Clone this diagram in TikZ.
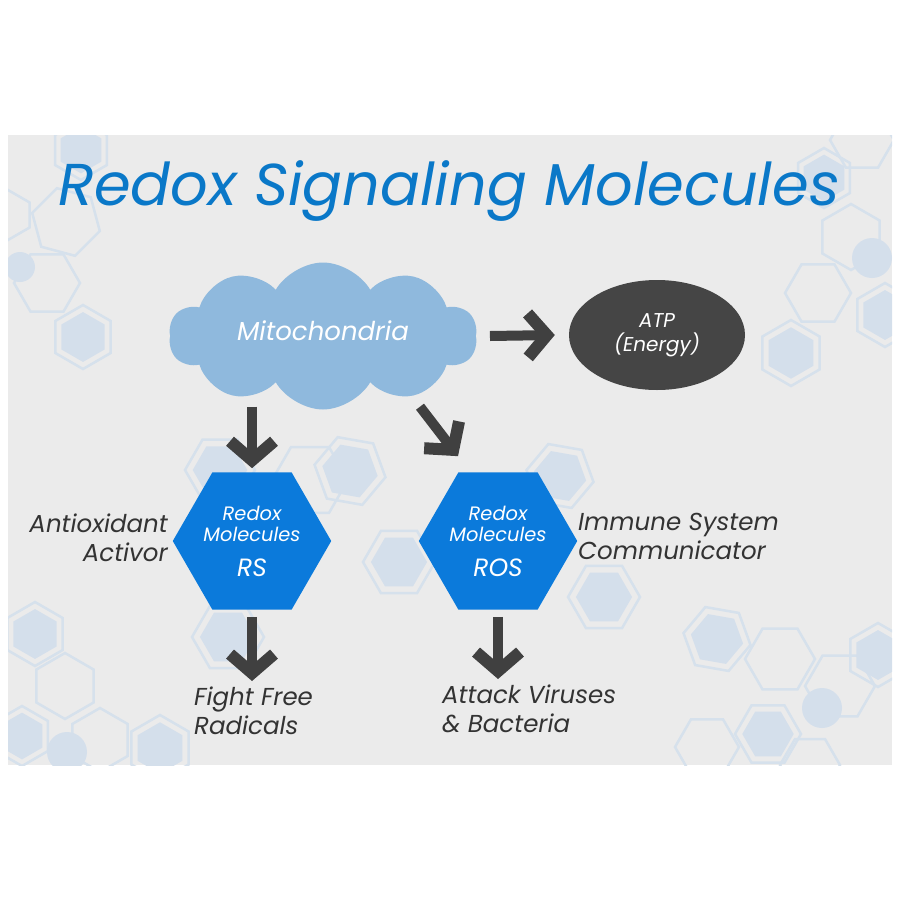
\documentclass[tikz,border=0pt]{standalone}
\usepackage{fontspec}
\setmainfont{Poppins}
\usetikzlibrary{shapes.geometric,shapes.symbols,arrows.meta}

\definecolor{panelgray}{HTML}{EBEBEB}
\definecolor{titleblue}{HTML}{0A78C8}
\definecolor{cloudblue}{HTML}{8FB9DD}
\definecolor{hexblue}{HTML}{0B7ADB}
\definecolor{arrowgray}{HTML}{404040}
\definecolor{atpgray}{HTML}{454545}
\definecolor{textgray}{HTML}{333333}
\definecolor{bgline}{HTML}{D6E1EC}
\definecolor{bgfill}{HTML}{D4DFEB}

% hexagon path: centre x, centre y, radius, rotation
\newcommand{\hexpath}[4]{(#1,#2) +(#4:#3) -- +(#4+60:#3) -- +(#4+120:#3) -- +(#4+180:#3) -- +(#4+240:#3) -- +(#4+300:#3) -- cycle}

\tikzset{
  molhex/.style={regular polygon, regular polygon sides=6, fill=hexblue, minimum size=156pt,
    inner sep=0pt, text=white, align=center, font=\fontsize{19.4}{21}\selectfont\itshape},
  darr/.style={draw=arrowgray, line width=10pt,
    -{Straight Barb[length=19pt, width=44pt, line width=12pt]}},
  sidetext/.style={inner sep=0pt, text=textgray, font=\fontsize{24.5}{29}\selectfont\itshape},
  bgedge/.style={draw=bgline, line width=2.5pt},
  bginner/.style={fill=bgfill}
}

\begin{document}
\begin{tikzpicture}[x=1pt, y=-1pt]
    \useasboundingbox (0,0) rectangle (900,900);
    \fill[panelgray] (8,135) rectangle (892,765);

    % background molecule pattern
    \begin{scope}
        \clip (8,135) rectangle (892,765);
        \foreach \x/\y/\r/\a in {66/222/35/15, 47/283/33/0, 851/237/33/30, 818/293/33/0,
            862/140/32/0, 65/686/33/30, 100/740/32/30, 780/659/35/0, 840/686/35/0,
            707/747/32/0, 810/765/30/0, 310/480/38/0, 8/215/25/30} {
            \draw[bgedge] \hexpath{\x}{\y}{\r}{\a};
        }
        \foreach \x/\y/\r/\a in {81/150/30/30, 83/337/32/30, 824/178/30/30, 791/353/33/30,
            885/315/32/30, 35/634/32/30, 22/736/30/30, 160/748/33/30, 220/470/35/0,
            350/471/36/10, 228/637/36/0, 399/562/36/0, 560/476/34/10, 604/597/36/0,
            717/639/34/10, 878/655/32/30, 768/734/33/0} {
            \draw[bgedge] \hexpath{\x}{\y}{\r}{\a};
            \fill[bginner] \hexpath{\x}{\y}{0.78*\r}{\a};
        }
        \foreach \x/\y/\r in {20/267/15, 872/258/20, 67/752/20, 822/708/20} {
            \fill[bgfill] (\x,\y) circle (\r);
        }
    \end{scope}

    % title
    \node[text=titleblue, font=\fontsize{59}{62}\selectfont\itshape] (title) at (449,191) {Redox Signaling Molecules};

    % main nodes
    \node[cloud, cloud puffs=10, cloud puff arc=120, cloud ignores aspect, fill=cloudblue,
        minimum width=308pt, minimum height=147pt, inner sep=0pt, text=white,
        font=\fontsize{26}{28}\selectfont\itshape] (cloud) at (323,336) {\raisebox{10pt}{Mitochondria}};
    \node[ellipse, fill=atpgray, minimum width=176pt, minimum height=110pt, text=white,
        align=center, font=\fontsize{20}{24}\selectfont\itshape] (atp) at (657,335) {ATP\\(Energy)};
    \node[molhex] (rs) at (252,541) {Redox\\Molecules\\[14pt]{\fontsize{25}{25}\selectfont RS}};
    \node[molhex] (ros) at (498,541) {Redox\\Molecules\\[14pt]{\fontsize{25}{25}\selectfont ROS}};

    % side texts
    \node[sidetext, anchor=north east, align=right] (antiox) at (168,514) {Antioxidant\\Activor};
    \node[sidetext, anchor=north west, align=left] (immune) at (578,513) {Immune System\\Communicator};
    \node[sidetext, anchor=north west, align=left] (fight) at (194,687) {Fight Free\\Radicals};
    \node[sidetext, anchor=north west, align=left] (attack) at (442,685) {Attack Viruses\\\& Bacteria};

    % arrows
    \draw[darr] ([xshift=14pt]cloud.east) -- ([xshift=-14pt]atp.west);
    \draw[darr, shorten <=-3pt, shorten >=4pt] (rs.north |- cloud.south) -- (rs.north);
    \draw[darr] ([shift={(97pt,3pt)}]cloud.south) -- ([shift={(-40pt,16pt)}]ros.north);
    \draw[darr, shorten <=7pt, shorten >=6pt] (rs.south) -- (rs.south |- fight.north);
    \draw[darr, shorten <=7pt, shorten >=6pt] (ros.south) -- (ros.south |- attack.north);

\end{tikzpicture}
\end{document}
